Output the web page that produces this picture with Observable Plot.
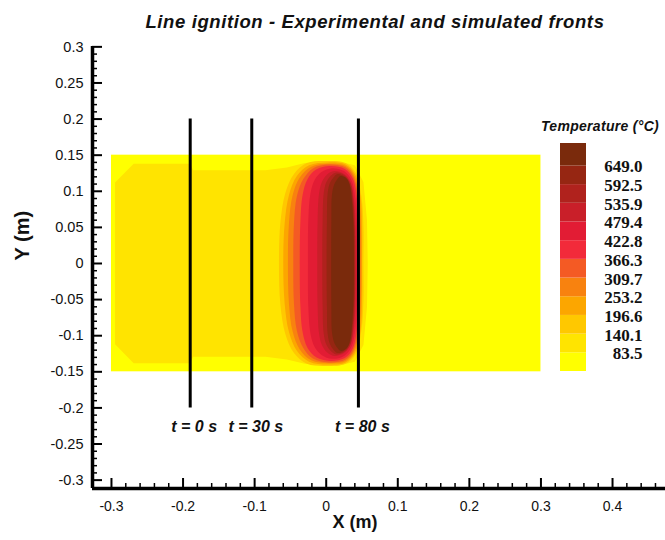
<!DOCTYPE html>
<html><head><meta charset="utf-8">
<script src="https://cdn.jsdelivr.net/npm/d3@7"></script>
<script src="https://cdn.jsdelivr.net/npm/@observablehq/plot@0.6"></script>
<style>
html,body{margin:0;padding:0;background:#fff;}
#wrap{position:relative;width:665px;height:540px;overflow:hidden;font-family:"Liberation Sans",Arial,sans-serif;}
#wrap svg{position:absolute;}
#title{position:absolute;left:0;width:750px;top:11px;text-align:center;line-height:1;font:italic bold 18.5px "Liberation Sans",Arial,sans-serif;letter-spacing:0.6px;white-space:nowrap;color:#111;}
#legendTitle{position:absolute;left:541px;top:118px;line-height:1;font:italic bold 14px "Liberation Sans",Arial,sans-serif;letter-spacing:0.3px;white-space:nowrap;color:#111;}
</style></head>
<body><div id="wrap">
<div id="title">Line ignition - Experimental and simulated fronts</div>
<div id="legendTitle">Temperature (°C)</div>
</div>
<script>
// ---- axis ticks / labels ----
const xTicks = [-0.3, -0.2, -0.1, 0, 0.1, 0.2, 0.3, 0.4];
const xTickLabels = ["-0.3", "-0.2", "-0.1", "0", "0.1", "0.2", "0.3", "0.4"];
const yTicks = [0.3, 0.25, 0.2, 0.15, 0.1, 0.05, 0, -0.05, -0.1, -0.15, -0.2, -0.25, -0.3];
const yTickLabels = ["0.3", "0.25", "0.2", "0.15", "0.1", "0.05", "0", "-0.05", "-0.1", "-0.15", "-0.2", "-0.25", "-0.3"];
const xTitle = "X (m)";
const yTitle = "Y (m)";

// ---- temperature legend ----
const levels = [83.5, 140.1, 196.6, 253.2, 309.7, 366.3, 422.8, 479.4, 535.9, 592.5, 649.0];
const levelLabels = ["83.5", "140.1", "196.6", "253.2", "309.7", "366.3", "422.8", "479.4", "535.9", "592.5", "649.0"];
const bandColors = ["#ffff00", "#ffe400", "#ffc800", "#fca600", "#f8820f", "#f45a24",
                    "#f22a3a", "#e21c34", "#c91f29", "#b0221d", "#962612", "#7a2a0c"];

// ---- plate (simulation domain, m) ----
const plateX = [-0.3, 0.3];
const plateY = [-0.15, 0.15];

// ---- fire fronts ----
const frontX = [-0.19, -0.104, 0.045];
const frontLabels = ["t = 0 s", "t = 30 s", "t = 80 s"];
const frontY = [-0.2, 0.2];

// ---- contour outlines (x, y in m) ----
// 83.5 °C iso-line (full outline)
const contour083 = [[-0.295,0.112],[-0.269,0.138],[-0.19,0.138],[-0.186,0.129],[-0.085,0.129],[-0.055,0.133],[-0.03,0.139],[0.015,0.142],[0.04,0.136],[0.052,0.113],[0.057,0.06],[0.058,0],[0.057,-0.06],[0.052,-0.113],[0.04,-0.136],[0.015,-0.142],[-0.03,-0.139],[-0.055,-0.133],[-0.085,-0.129],[-0.186,-0.129],[-0.19,-0.138],[-0.269,-0.138],[-0.295,-0.112]];
// upper halves (left end -> over the top -> right end), symmetric about y = 0
const contour140 = [[-0.066,0],[-0.064,0.057],[-0.057,0.098],[-0.045,0.124],[-0.027,0.139],[0.001,0.142],[0.027,0.139],[0.041,0.126],[0.049,0.094],[0.052,0.052],[0.052,0]];
const contour197 = [[-0.060,0],[-0.058,0.056],[-0.052,0.095],[-0.041,0.121],[-0.024,0.136],[0.002,0.140],[0.027,0.137],[0.040,0.124],[0.048,0.092],[0.050,0.050],[0.050,0]];
const contour253 = [[-0.0535,0],[-0.052,0.056],[-0.047,0.094],[-0.037,0.119],[-0.021,0.134],[0.003,0.138],[0.027,0.135],[0.039,0.122],[0.046,0.091],[0.0485,0.05],[0.049,0]];
const contour310 = [[-0.046,0],[-0.045,0.056],[-0.041,0.093],[-0.032,0.117],[-0.018,0.132],[0.004,0.137],[0.027,0.133],[0.038,0.120],[0.045,0.09],[0.047,0.05],[0.047,0]];
const contour366 = [[-0.037,0],[-0.036,0.06],[-0.033,0.095],[-0.026,0.117],[-0.014,0.130],[0.005,0.135],[0.026,0.131],[0.037,0.118],[0.043,0.09],[0.045,0.05],[0.045,0]];
const contour423 = [[-0.0255,0],[-0.025,0.06],[-0.022,0.097],[-0.016,0.116],[-0.006,0.127],[0.008,0.132],[0.025,0.128],[0.035,0.116],[0.041,0.088],[0.043,0.05],[0.0433,0]];
const contour479 = [[-0.0125,0],[-0.012,0.06],[-0.010,0.097],[-0.006,0.113],[0.001,0.123],[0.011,0.128],[0.025,0.124],[0.034,0.113],[0.039,0.087],[0.041,0.05],[0.0414,0]];
const contour536 = [[-0.0055,0],[-0.005,0.06],[-0.0035,0.097],[0.000,0.112],[0.006,0.121],[0.014,0.126],[0.026,0.122],[0.034,0.111],[0.038,0.086],[0.040,0.05],[0.0405,0]];
const contour593 = [[0.0005,0],[0.001,0.06],[0.002,0.097],[0.005,0.111],[0.010,0.119],[0.016,0.124],[0.026,0.120],[0.033,0.110],[0.037,0.086],[0.039,0.05],[0.0395,0]];
const contour649 = [[0.007,0],[0.0072,0.06],[0.008,0.095],[0.011,0.109],[0.015,0.116],[0.020,0.121],[0.028,0.118],[0.033,0.108],[0.036,0.085],[0.038,0.05],[0.0386,0]];

const hotContours = [contour140, contour197, contour253, contour310, contour366, contour423, contour479, contour536, contour593, contour649];

function mirror(upper) {
  const lower = upper.slice(1, -1).reverse().map(([x, y]) => [x, -y]);
  return upper.concat(lower);
}

const xDomain = [-0.3265, 0.474];
const yDomain = [-0.3116, 0.3005];
const W = 665, H = 540, mL = 92, mR = 0, mT = 46, mB = 52;
const frameW = W - mL - mR, frameH = H - mT - mB;
const FONT = "'Liberation Sans', Arial, sans-serif";

const xMinor = d3.range(-0.28, 0.47, 0.02).filter(v => xTicks.every(t => Math.abs(t - v) > 1e-6));
const yMinor = d3.range(-0.3, 0.301, 0.01).filter(v => yTicks.every(t => Math.abs(t - v) > 1e-6));

const plate = [{x1: plateX[0], x2: plateX[1], y1: plateY[0], y2: plateY[1]}];

const main = Plot.plot({
  width: W, height: H,
  marginLeft: mL, marginRight: mR, marginTop: mT, marginBottom: mB,
  x: {domain: xDomain, axis: null},
  y: {domain: yDomain, axis: null},
  style: {fontFamily: FONT, background: "transparent", overflow: "visible"},
  marks: [
    Plot.rect(plate, {x1: "x1", x2: "x2", y1: "y1", y2: "y2", fill: bandColors[0]}),
    Plot.line(contour083, {x: d => d[0], y: d => d[1], fill: bandColors[1], stroke: "none", curve: "linear-closed"}),
    ...hotContours.map((c, i) => Plot.line(mirror(c), {x: d => d[0], y: d => d[1], fill: bandColors[i + 2], stroke: "none", curve: "catmull-rom-closed"})),
    Plot.ruleX(frontX, {x: d => d, y1: frontY[0], y2: frontY[1], stroke: "#000", strokeWidth: 3}),
    Plot.text(frontLabels, {x: (d, i) => frontX[i], y: -0.2258, text: d => d, dx: 4, fontSize: 16, fontWeight: "bold", fontStyle: "italic", fill: "#111", letterSpacing: "0.6px"}),
    // axis lines
    Plot.ruleX([xDomain[0]], {x: d => d, stroke: "#000", strokeWidth: 3.5}),
    Plot.ruleY([yDomain[0]], {y: d => d, stroke: "#000", strokeWidth: 3.5}),
    // ticks (inward)
    Plot.tickX(xTicks, {x: d => d, insetTop: frameH - 10, stroke: "#000", strokeWidth: 2}),
    Plot.tickX(xMinor, {x: d => d, insetTop: frameH - 5, stroke: "#000", strokeWidth: 1.5}),
    Plot.tickY(yTicks, {y: d => d, insetRight: frameW - 10, stroke: "#000", strokeWidth: 2}),
    Plot.tickY(yMinor, {y: d => d, insetRight: frameW - 5, stroke: "#000", strokeWidth: 1.5}),
    // tick labels
    Plot.text(xTicks, {x: d => d, y: yDomain[0], text: (d, i) => xTickLabels[i], dy: 18, fontSize: 14, fill: "#111"}),
    Plot.text(yTicks, {x: xDomain[0], y: d => d, text: (d, i) => yTickLabels[i], dx: -9, textAnchor: "end", fontSize: 14.5, fill: "#111"}),
    // axis titles
    Plot.text([xTitle], {frameAnchor: "bottom", text: d => d, dx: -24, dy: 39, fontSize: 18, fontWeight: "bold", fill: "#111"}),
    Plot.text([yTitle], {frameAnchor: "left", text: d => d, rotate: -90, dx: -70, dy: -7, fontSize: 20, fontWeight: "bold", fill: "#111"})
  ]
});
main.style.left = "0px"; main.style.top = "0px";

const legend = Plot.plot({
  width: 120, height: 250,
  marginLeft: 15, marginRight: 79, marginTop: 13, marginBottom: 9,
  x: {domain: [0, 1], axis: null},
  y: {domain: [0, 12.2], axis: null},
  color: {type: "identity"},
  style: {background: "transparent", overflow: "visible"},
  marks: [
    Plot.rect(bandColors, {x1: 0, x2: 1, y1: (d, i) => i, y2: (d, i) => (i === bandColors.length - 1 ? 12.2 : i + 1), fill: d => d}),
    Plot.text(levelLabels, {x: 1, y: (d, i) => i + 1, text: d => d, dx: 56, dy: 1, textAnchor: "end",
      fontSize: 17, fontWeight: "bold", fontFamily: "'Liberation Serif', 'Times New Roman', serif", fill: "#111"})
  ]
});
legend.style.left = "545px"; legend.style.top = "130px";

const wrap = document.getElementById("wrap");
wrap.insertBefore(main, wrap.firstChild);
wrap.appendChild(legend);
</script>
</body></html>
